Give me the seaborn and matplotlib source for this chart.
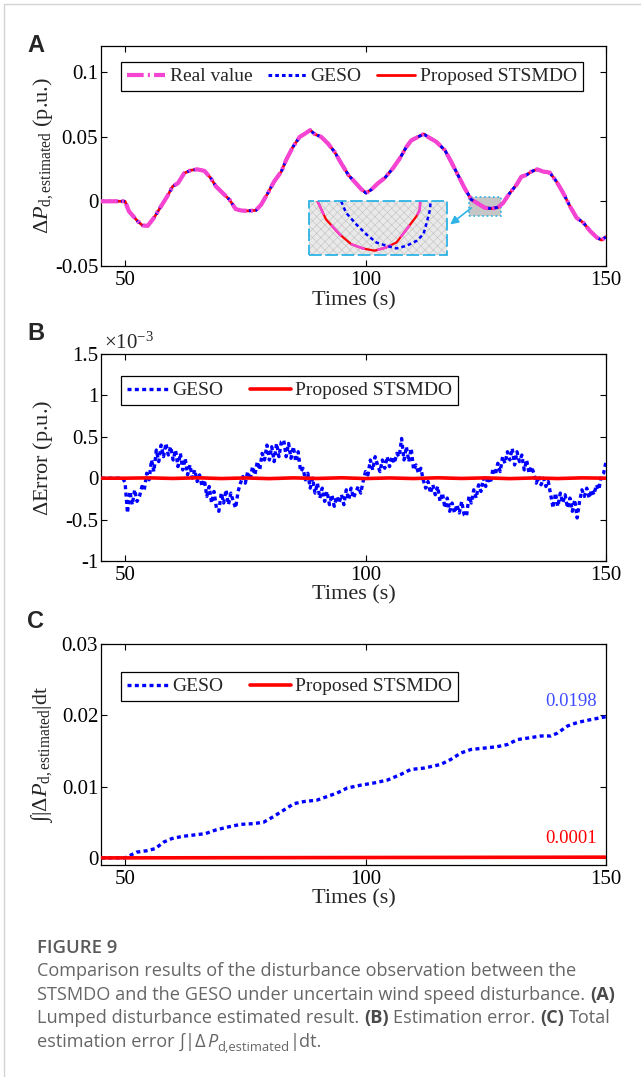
import numpy as np
import pandas as pd
import seaborn as sns
import matplotlib
matplotlib.use("Agg")
import matplotlib.pyplot as plt
from matplotlib.patches import Rectangle
from matplotlib.lines import Line2D

# ------------------------------------------------------------------ data
# Panel A: lumped disturbance (real value; GESO and STSMDO track it)
real_t = [45, 50, 50.8, 52.6, 53.6, 54.7, 56.0, 57.3, 58.8, 59.9,
          61.0, 62.3, 63.7, 65.0, 66.5, 67.8, 68.9, 70.3, 71.7, 73.0,
          74.1, 75.5, 77.2, 78.3, 79.7, 81.0, 82.5, 83.5, 84.9, 86.3,
          87.3, 88.5, 89.4, 90.8, 92.2, 93.6, 95.0, 96.5, 98.0, 99.1,
          100.1, 101.2, 102.6, 104.0, 105.7, 107.1, 108.5, 109.5, 110.9, 112.1,
          113.0, 114.7, 116.5, 117.8, 119.2, 120.6, 122.0, 123.4, 124.8, 126.2,
          127.6, 128.6, 130.0, 131.4, 132.4, 133.5, 134.5, 135.7, 136.9, 138.3,
          139.7, 141.1, 142.5, 143.9, 145.3, 146.7, 148.1, 149.1, 150.0]
real_v = [0, 0, -0.0077, -0.0153, -0.0186, -0.0190, -0.0128, -0.0050, 0.0040, 0.0115,
          0.0140, 0.0217, 0.0240, 0.0247, 0.0235, 0.0180, 0.0115, 0.0064, 0.0013, -0.0060,
          -0.0071, -0.0074, -0.0070, -0.0026, 0.0064, 0.0153, 0.0230, 0.0320, 0.0420, 0.0497,
          0.0520, 0.0550, 0.0520, 0.0497, 0.0446, 0.0380, 0.0290, 0.0200, 0.0140, 0.0094,
          0.0064, 0.0090, 0.0140, 0.0180, 0.0255, 0.0330, 0.0420, 0.0470, 0.0497, 0.0520,
          0.0497, 0.0460, 0.0395, 0.0306, 0.0204, 0.0102, 0.0013, -0.0018, -0.0050, -0.0056,
          -0.0046, -0.0013, 0.0064, 0.0128, 0.0190, 0.0204, 0.0230, 0.0247, 0.0230, 0.0222,
          0.0153, 0.0064, -0.0038, -0.0128, -0.0166, -0.0230, -0.0280, -0.0300, -0.0273]
geso_v = real_v
stsmdo_v = real_v

# Panel A inset (zoomed view around t = 122..127 s)
inset_real_t = [122.30, 122.61, 123.10, 123.52, 123.95, 124.38, 124.80, 125.17, 125.54, 125.90, 126.02, 126.03]
inset_real_v = [0.0, -0.00304, -0.00552, -0.00718, -0.00790, -0.00828, -0.00773, -0.00690,
                -0.00469, -0.00248, -0.00138, 0.0]
inset_geso_t = [123.16, 123.34, 123.71, 124.07, 124.44, 124.80, 125.17, 125.54, 125.90, 126.15, 126.27, 126.39, 126.41]
inset_geso_v = [0.0, -0.00193, -0.00387, -0.00552, -0.00690, -0.00745, -0.00790, -0.00745,
                -0.00663, -0.00552, -0.00359, -0.00138, 0.0]

# Panel B: estimation error (x1e-3 p.u.), 0.5 s samples from 45 s to 150 s
err_t = np.arange(45, 150.01, 0.5)
geso_err = [0.0] * 10 + [
    -0.05, -0.42, -0.16, -0.32, -0.14, -0.28, -0.22, -0.10, -0.14, 0.06,
    -0.02, 0.22, 0.08, 0.34, 0.20, 0.40, 0.26, 0.42, 0.28, 0.38,
    0.22, 0.34, 0.14, 0.30, 0.10, 0.24, 0.04, 0.16, 0.00, 0.10,
    -0.04, 0.04, -0.10, -0.02, -0.22, -0.10, -0.30, -0.16, -0.36, -0.40,
    -0.18, -0.30, -0.14, -0.32, -0.18, -0.28, -0.36, -0.16, -0.06, 0.02,
    -0.06, 0.08, -0.02, 0.14, 0.04, 0.20, 0.10, 0.30, 0.22, 0.40,
    0.22, 0.38, 0.20, 0.42, 0.26, 0.44, 0.46, 0.26, 0.42, 0.24,
    0.38, 0.20, 0.32, 0.08, 0.12, -0.02, 0.06, -0.12, 0.00, -0.18,
    -0.06, -0.24, -0.12, -0.28, -0.16, -0.32, -0.20, -0.34, -0.22, -0.30,
    -0.20, -0.32, -0.14, -0.26, -0.12, -0.24, -0.16, -0.10, -0.18, -0.04,
    0.08, 0.04, 0.22, 0.10, 0.26, 0.16, 0.08, 0.22, 0.12, 0.26,
    0.14, 0.26, 0.18, 0.30, 0.26, 0.48, 0.22, 0.38, 0.20, 0.36,
    0.10, 0.16, 0.06, 0.12, -0.02, -0.12, -0.04, -0.18, -0.08, -0.20,
    -0.10, -0.28, -0.18, -0.36, -0.24, -0.40, -0.30, -0.42, -0.32, -0.42,
    -0.28, -0.44, -0.46, -0.22, -0.30, -0.14, -0.24, -0.08, -0.16, 0.00,
    -0.10, 0.02, -0.06, 0.12, 0.04, 0.18, 0.08, 0.26, 0.18, 0.32,
    0.22, 0.36, 0.16, 0.32, 0.20, 0.28, 0.10, 0.22, 0.06, 0.14,
    0.06, -0.06, 0.02, -0.08, 0.00, -0.10, -0.04, -0.20, -0.36, -0.18,
    -0.34, -0.18, -0.30, -0.20, -0.36, -0.24, -0.40, -0.26, -0.48, -0.28,
    -0.14, -0.22, -0.12, -0.24, -0.14, -0.20, -0.08, -0.14, 0.02, 0.06,
    0.20]
stsmdo_err_t = np.arange(45, 150.01, 5)
stsmdo_err = [0, 0, 0.004, -0.003, 0.005, -0.004, 0.003, -0.005, 0.004, -0.003,
              0.005, -0.004, 0.003, -0.004, 0.005, -0.003, 0.004, -0.005, 0.003, -0.004,
              0.004, 0.0]

# Panel C: integrated absolute estimation error
cum_t = [45, 50, 52.4, 54.5, 56.3, 58.0, 59.7, 61.8, 64.2, 66.7,
         68.8, 71.2, 74.0, 76.7, 78.8, 80.9, 83.0, 85.1, 87.2, 89.9,
         92.0, 94.1, 96.2, 99.0, 101.7, 104.5, 107.3, 109.4, 112.2, 115.6,
         117.7, 119.8, 121.9, 124.7, 127.4, 129.5, 131.6, 133.7, 136.5, 138.5,
         139.9, 142.0, 144.1, 146.9, 150.0]
geso_cum = [0, 0, 0.0008, 0.0010, 0.0013, 0.0022, 0.0027, 0.0030, 0.0032, 0.0034,
            0.0039, 0.0043, 0.0047, 0.0048, 0.0050, 0.0058, 0.0067, 0.0076, 0.0079, 0.0081,
            0.0086, 0.0091, 0.0098, 0.0102, 0.0105, 0.0109, 0.0117, 0.0124, 0.0126, 0.0131,
            0.0138, 0.0147, 0.0152, 0.0154, 0.0156, 0.0159, 0.0166, 0.0168, 0.0171, 0.0171,
            0.0175, 0.0185, 0.0190, 0.0194, 0.0198]
stsmdo_cum_t = [45, 50, 100, 150]
stsmdo_cum = [0, 0, 0.00005, 0.0001]

x_ticks = [50, 100, 150]
a_yticks = [-0.05, 0, 0.05, 0.1]
a_ylabels = ["-0.05", "0", "0.05", "0.1"]
b_yticks = [-1, -0.5, 0, 0.5, 1, 1.5]
b_ylabels = ["-1", "-0.5", "0", "0.5", "1", "1.5"]
c_yticks = [0, 0.01, 0.02, 0.03]
c_ylabels = ["0", "0.01", "0.02", "0.03"]

# ------------------------------------------------------------------ style
sns.set_theme(style="ticks")
plt.rcParams.update({
    "font.family": ["Liberation Serif", "DejaVu Serif"],
    "mathtext.fontset": "custom",
    "mathtext.rm": "Liberation Serif",
    "mathtext.it": "Liberation Serif:italic",
    "mathtext.bf": "Liberation Serif:bold",
    "axes.edgecolor": "black",
    "axes.linewidth": 0.9,
    "xtick.direction": "in", "ytick.direction": "in",
    "xtick.top": True, "ytick.right": True,
    "xtick.color": "black", "ytick.color": "black",
    "xtick.major.size": 4, "ytick.major.size": 4,
    "xtick.major.width": 0.8, "ytick.major.width": 0.8,
    "xtick.labelsize": 15, "ytick.labelsize": 15,
    "xtick.major.pad": 3.5, "ytick.major.pad": 2,
    "hatch.linewidth": 0.4,
})

PINK = "#f544d2"
BLUE = "#0000ff"
RED = "#ff0000"
CYAN = "#2db3e6"
PINK_LS = (0, (4, 1, 0.5, 1))
DOT_LS = (0, (1.2, 1.0))

W, H = 641, 1077
fig = plt.figure(figsize=(W / 100, H / 100), dpi=100)
fig.patch.set_facecolor("white")


def rect(top, bottom):
    return [101 / W, 1 - bottom / H, 505 / W, (bottom - top) / H]


def line(ax, x, y, **kw):
    sns.lineplot(x=x, y=y, ax=ax, estimator=None, sort=False, legend=False, **kw)


def style_axes(ax, ylim, yticks, ylabels, ylabel, xlab_y):
    ax.set_xlim(45, 150)
    ax.set_ylim(*ylim)
    ax.set_xticks(x_ticks)
    ax.set_xticklabels([str(v) for v in x_ticks])
    ax.set_yticks(yticks)
    ax.set_yticklabels(ylabels)
    ax.set_xlabel("Times (s)", fontsize=16)
    ax.set_ylabel(ylabel, fontsize=16)
    ax.yaxis.set_label_coords(-0.092, 0.5)
    ax.xaxis.set_label_coords(0.5, xlab_y)
    for s in ax.spines.values():
        s.set_visible(True)
        s.set_color("black")
        s.set_linewidth(0.9)
    ax.set_facecolor("white")


def legend(ax, handles, labels, anchor, colsp, hl):
    leg = ax.legend(handles, labels, loc="upper left",
                    bbox_to_anchor=(anchor[0] / W, 1 - anchor[1] / H),
                    bbox_transform=fig.transFigure, ncol=len(handles),
                    frameon=True, fancybox=False, framealpha=1,
                    edgecolor="black", fontsize=14, handlelength=hl,
                    handletextpad=0.25, columnspacing=colsp,
                    borderpad=0.3, borderaxespad=0)
    leg.get_frame().set_linewidth(0.9)
    return leg


# ------------------------------------------------------------------ panel A
axA = fig.add_axes(rect(46, 266))
line(axA, real_t, stsmdo_v, color=RED, linewidth=2.0, zorder=3)
line(axA, real_t, geso_v, color=BLUE, linewidth=2.2, linestyle=DOT_LS, zorder=4)
line(axA, real_t, real_v, color=PINK, linewidth=3.0, linestyle=PINK_LS, zorder=5)
style_axes(axA, (-0.05, 0.12), a_yticks, a_ylabels,
           r"$\Delta P_{\mathrm{d,estimated}}$ (p.u.)", -0.115)

# zoom source box and arrow
axA.add_patch(Rectangle((121.5, -0.011), 6.6, 0.0146, facecolor="#c6c6c6",
                        edgecolor=CYAN, linestyle=":", linewidth=1.2, zorder=1))
axA.annotate("", xy=(117.6, -0.0179), xytext=(122.0, -0.0051),
             arrowprops=dict(arrowstyle="-|>", color=CYAN, lw=1.2,
                             mutation_scale=12, shrinkA=0, shrinkB=0), zorder=6)

ax_in = axA.inset_axes([88.3, -0.0415, 28.6, 0.0415], transform=axA.transData)
line(ax_in, inset_real_t, inset_real_v, color=RED, linewidth=1.6, zorder=2)
line(ax_in, inset_real_t, inset_real_v, color=PINK, linewidth=1.8,
     linestyle=(0, (6, 5)), zorder=3)
line(ax_in, inset_geso_t, inset_geso_v, color=BLUE, linewidth=1.8,
     linestyle=(0, (1.5, 1.2)), zorder=4)
ax_in.set_xlim(122, 127)
ax_in.set_ylim(-0.009, 0)
ax_in.set_xticks([])
ax_in.set_yticks([])
ax_in.set_xlabel("")
ax_in.set_ylabel("")
ax_in.set_axis_off()
ax_in.add_patch(Rectangle((0, 0), 1, 1, transform=ax_in.transAxes,
                          facecolor="#e9e9e9", edgecolor="#c2c2c2", hatch="xxxx",
                          linewidth=0, zorder=0))
ax_in.add_patch(Rectangle((0, 0), 1, 1, transform=ax_in.transAxes, fill=False,
                          edgecolor=CYAN, linestyle=(0, (7, 2)), linewidth=1.3,
                          clip_on=False, zorder=5))

hA = [Line2D([], [], color=PINK, lw=3.0, linestyle=PINK_LS),
      Line2D([], [], color=BLUE, lw=2.2, linestyle=DOT_LS),
      Line2D([], [], color=RED, lw=2.0)]
legend(axA, hA, ["Real value", "GESO", "Proposed STSMDO"], (121, 62), 0.8, 1.95)

# ------------------------------------------------------------------ panel B
axB = fig.add_axes(rect(354, 561))
line(axB, err_t, geso_err, color=BLUE, linewidth=2.4, linestyle=DOT_LS, zorder=3)
line(axB, stsmdo_err_t, stsmdo_err, color=RED, linewidth=2.6, zorder=4)
style_axes(axB, (-1, 1.5), b_yticks, b_ylabels, r"$\Delta$Error (p.u.)", -0.116)
fig.text(104 / W, 1 - 343 / H, r"$\times10^{-3}$", fontsize=15, ha="left", va="center")
hB = [Line2D([], [], color=BLUE, lw=2.4, linestyle=DOT_LS),
      Line2D([], [], color=RED, lw=2.6)]
legend(axB, hB, ["GESO", "Proposed STSMDO"], (121, 376), 1.35, 2.1)

# ------------------------------------------------------------------ panel C
axC = fig.add_axes(rect(644, 865))
line(axC, cum_t, geso_cum, color=BLUE, linewidth=2.4, linestyle=DOT_LS, zorder=3)
line(axC, stsmdo_cum_t, stsmdo_cum, color=RED, linewidth=2.6, zorder=4)
style_axes(axC, (-0.001, 0.03), c_yticks, c_ylabels,
           r"$\int|\Delta P_{\mathrm{d,estimated}}|\mathrm{dt}$", -0.109)
axC.text(142.7, 0.0219, "0.0198", color="#3f4dff", fontsize=13.5, ha="center", va="center")
axC.text(142.7, 0.0027, "0.0001", color=RED, fontsize=13.5, ha="center", va="center")
legend(axC, hB, ["GESO", "Proposed STSMDO"], (121, 672), 1.35, 2.1)

# ------------------------------------------------------------------ panel letters & frame
for letter, yc in (("A", 45), ("B", 333), ("C", 622)):
    fig.text(27 / W, 1 - yc / H, letter, fontsize=17, fontweight="bold",
             family="Liberation Sans", ha="left", va="center")

fig.add_artist(Line2D([4 / W, 4 / W], [0, 1 - 4 / H], color="#d4d4d4", lw=1,
                      transform=fig.transFigure))
fig.add_artist(Line2D([4 / W, 1], [1 - 4 / H, 1 - 4 / H], color="#d4d4d4", lw=1,
                      transform=fig.transFigure))

# ------------------------------------------------------------------ caption
renderer = fig.canvas.get_renderer()
CAP_FAM = ["Open Sans", "DejaVu Sans"]
CAP_COL = "#666666"
BOLD_COL = "#4a4a4a"

line1 = "Comparison results of the disturbance observation between the"
tmp = fig.text(0, 0, line1, fontsize=12, family=CAP_FAM)
cap_size = 12 * 536 / tmp.get_window_extent(renderer).width
tmp.remove()

t1 = fig.text(0, 0, "a a", fontsize=cap_size, family=CAP_FAM)
t2 = fig.text(0, 0, "aa", fontsize=cap_size, family=CAP_FAM)
SPACE = t1.get_window_extent(renderer).width - t2.get_window_extent(renderer).width
t1.remove()
t2.remove()


def put_runs(x_px, base_px, runs):
    x = x_px
    for run in runs:
        txt, kw = run[0], run[1]
        dy = run[2] if len(run) > 2 else 0
        size = kw.pop("size", cap_size)
        if txt.startswith(" "):
            x += SPACE
        t = fig.text(x / W, 1 - (base_px + dy) / H, txt.strip(), fontsize=size,
                     family=CAP_FAM, ha="left", va="baseline", **kw)
        x = t.get_window_extent(renderer).x1
        if txt.endswith(" "):
            x += SPACE


reg = dict(color=CAP_COL)
put_runs(37, 953, [("FIGURE 9", dict(color="#5a5a5a", fontweight="semibold",
                                      size=cap_size * 1.02))])
put_runs(37, 976, [(line1, dict(reg))])
put_runs(37, 1000, [("STSMDO and the GESO under uncertain wind speed disturbance. ", dict(reg)),
                    ("(A)", dict(color=BOLD_COL, fontweight="bold"))])
put_runs(37, 1023, [("Lumped disturbance estimated result. ", dict(reg)),
                    ("(B)", dict(color=BOLD_COL, fontweight="bold")),
                    (" Estimation error. ", dict(reg)),
                    ("(C)", dict(color=BOLD_COL, fontweight="bold")),
                    (" Total", dict(reg))])
put_runs(37, 1047, [("estimation error ", dict(reg)),
                    ("∫|Δ", dict(reg)),
                    ("P", dict(color=CAP_COL, style="italic")),
                    ("d,estimated", dict(color=CAP_COL, size=cap_size * 0.72), 4),
                    ("|dt.", dict(reg))])

fig.savefig("out.png", dpi=100, facecolor="white")
